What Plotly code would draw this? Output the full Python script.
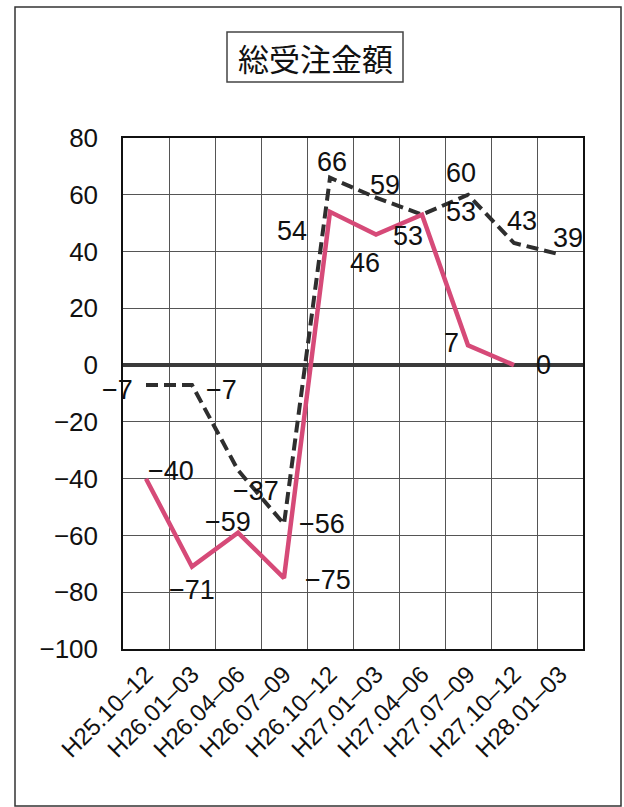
import plotly.graph_objects as go

# Quarterly periods (Japanese era notation)
periods = ["H25.10–12", "H26.01–03", "H26.04–06", "H26.07–09", "H26.10–12",
           "H27.01–03", "H27.04–06", "H27.07–09", "H27.10–12", "H28.01–03"]

# Actual values (pink solid line) – last period not yet available
actual = [-40, -71, -59, -75, 54, 46, 53, 7, 0]
# Outlook values (black dashed line)
outlook = [-7, -7, -37, -56, 66, 59, 53, 60, 43, 39]

# Label offsets in pixels (xshift, yshift) for each data label
actual_offsets = [(25, 8), (0, -23), (-10, 11), (44, -2), (-38, -19),
                  (-11, -28), (-14, -21), (-17, 2), (29, 0)]
outlook_offsets = [(-29, -5), (29, -5), (18, -21), (38, 0), (2, 16),
                   (9, 13), (39, 3), (-7, 22), (8, 22), (8, 16)]

PINK = "#d64a78"
DARK = "#2e2e2e"
FONT = "Liberation Sans, Arial, sans-serif"

W, H = 624, 807
L, R, T, B = 123, 41, 138, 158
pw, ph = W - L - R, H - T - B


def px_x(x):
    return (x - L) / pw


def px_y(y):
    return (H - B - y) / ph


fig = go.Figure()

fig.add_trace(go.Scatter(
    x=periods, y=outlook, mode="lines",
    line=dict(color=DARK, width=4, dash="12px,6px"),
    hoverinfo="skip", showlegend=False,
))
fig.add_trace(go.Scatter(
    x=periods[:len(actual)], y=actual, mode="lines",
    line=dict(color=PINK, width=4.5),
    hoverinfo="skip", showlegend=False,
))

annotations = []
for values, offsets in ((outlook, outlook_offsets), (actual, actual_offsets)):
    for i, v in enumerate(values):
        dx, dy = offsets[i]
        annotations.append(dict(
            x=periods[i], y=v, xref="x", yref="y",
            text=str(v).replace("-", "−"),
            showarrow=False, xshift=dx, yshift=dy,
            xanchor="center", yanchor="middle",
            font=dict(family=FONT, size=27, color="#111"),
        ))

# Chart title inside a framed box
annotations.append(dict(
    x=px_x(315), y=px_y(57), xref="paper", yref="paper", text="総受注金額",
    showarrow=False, xanchor="center", yanchor="middle",
    font=dict(family="Noto Sans CJK JP", size=31, color="#111"),
))

shapes = [
    # outer frame
    dict(type="rect", xref="paper", yref="paper",
         x0=px_x(15), x1=px_x(621), y0=px_y(806), y1=px_y(7),
         line=dict(color="#333", width=1.5), layer="below"),
    # title frame
    dict(type="rect", xref="paper", yref="paper",
         x0=px_x(227), x1=px_x(403), y0=px_y(82), y1=px_y(32),
         line=dict(color="#444", width=1.5)),
]

fig.update_layout(
    width=W, height=H,
    margin=dict(l=L, r=R, t=T, b=B, autoexpand=False),
    paper_bgcolor="white", plot_bgcolor="white",
    annotations=annotations, shapes=shapes,
    font=dict(family=FONT, color="#111"),
)

fig.update_xaxes(
    type="category", range=[-0.5, 9.5], tickson="boundaries",
    showgrid=True, gridcolor="#555", gridwidth=1,
    ticks="", tickangle=-45, ticklabelstandoff=0,
    tickfont=dict(family=FONT, size=24, color="#111"),
    showline=True, linecolor="#111", linewidth=1.5, mirror=True,
    automargin=False,
)
fig.update_yaxes(
    range=[-100, 80], dtick=20, tick0=0,
    showgrid=True, gridcolor="#555", gridwidth=1,
    zeroline=True, zerolinecolor="#3a3a3a", zerolinewidth=4,
    ticks="", ticklabelstandoff=18,
    tickfont=dict(family=FONT, size=26, color="#111"),
    showline=True, linecolor="#111", linewidth=1.5, mirror=True,
    automargin=False,
)

fig.write_html("out.html")
